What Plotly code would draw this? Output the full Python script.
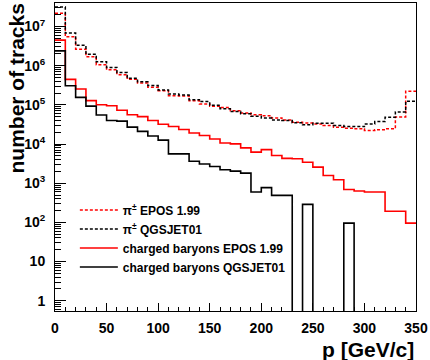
import plotly.graph_objects as go

# ---- data ----
bin_edges = [0, 10, 20, 30, 40, 50, 60, 70, 80, 90, 100, 110, 120, 130, 140, 150, 160, 170,
             180, 190, 200, 210, 220, 230, 240, 250, 260, 270, 280, 290, 300, 310, 320, 330,
             340, 350]

pi_epos = [2.18e7, 5.44e6, 2.64e6, 1.68e6, 1.05e6, 7.9e5, 5.9e5, 4.5e5, 3.6e5, 2.8e5,
           2.3e5, 1.71e5, 1.68e5, 1.28e5, 1.05e5, 9.2e4, 8.6e4, 7.1e4, 6.2e4, 5.6e4,
           5.3e4, 4.6e4, 4.1e4, 3.6e4, 3.46e4, 3.27e4, 2.96e4, 2.68e4, 2.52e4, 2.44e4,
           2.21e4, 2.3e4, 2.44e4, 4.9e4, 2.23e5]

pi_qgsjet = [3.15e7, 6.8e6, 3.3e6, 1.97e6, 1.26e6, 9.0e5, 6.7e5, 4.8e5, 3.9e5, 3.1e5,
             2.4e5, 1.89e5, 1.79e5, 1.36e5, 1.21e5, 9.8e4, 8.0e4, 6.8e4, 5.9e4, 5.1e4,
             4.6e4, 4.1e4, 3.96e4, 3.5e4, 3.1e4, 3.4e4, 3.4e4, 2.96e4, 2.8e4, 2.8e4,
             3.27e4, 3.74e4, 4.8e4, 6.6e4, 1.24e5]

baryons_epos = [4.48e6, 4.46e5, 2.54e5, 1.28e5, 1.01e5, 9.5e4, 7.3e4, 5.6e4, 5.0e4, 4.0e4,
                3.2e4, 2.8e4, 2.34e4, 1.91e4, 1.65e4, 1.34e4, 1.06e4, 1.01e4, 8.0e3, 6.2e3,
                7.2e3, 5.1e3, 4.3e3, 4.2e3, 3.44e3, 2.57e3, 1.58e3, 1.23e3, 690, 630,
                594, 594, 192, 192, 96]

baryons_qgsjet = [2.39e6, 3.08e5, 1.55e5, 9.3e4, 5.5e4, 4.0e4, 3.85e4, 2.7e4, 2.1e4, 1.6e4,
                  1.26e4, 5.6e3, 5.6e3, 3.65e3, 3.1e3, 2.67e3, 2.21e3, 2.03e3, 1.81e3, 594,
                  770, 490, 490, 0, 288, 0, 0, 0, 96, 0,
                  0, 0, 0, 0, 0]

series_names = ["π<sup>±</sup> EPOS 1.99", "π<sup>±</sup> QGSJET01",
                "charged baryons EPOS 1.99", "charged baryons QGSJET01"]

x_tick_vals = [0, 50, 100, 150, 200, 250, 300, 350]
y_tick_vals = [1, 10, 1e2, 1e3, 1e4, 1e5, 1e6, 1e7]
y_tick_text = ["1", "10", "10<sup>2</sup>", "10<sup>3</sup>", "10<sup>4</sup>",
               "10<sup>5</sup>", "10<sup>6</sup>", "10<sup>7</sup>"]

x_title = "p [GeV/c]"
y_title = "number of tracks"

# ---- figure ----
FONT = "Liberation Sans, Arial, Helvetica, sans-serif"
FLOOR = 1e-3  # empty bins drop below the frame (log scale)

styles = [
    dict(color="#ff0000", width=1.5, dash="3px,2px"),
    dict(color="#000000", width=1.5, dash="3px,2px"),
    dict(color="#ff0000", width=1.6),
    dict(color="#000000", width=1.6),
]
series = [pi_epos, pi_qgsjet, baryons_epos, baryons_qgsjet]

fig = go.Figure()
for name, vals, st in zip(series_names, series, styles):
    yv = [v if v > 0 else FLOOR for v in vals]
    yv = yv + [yv[-1]]
    fig.add_trace(go.Scatter(x=bin_edges, y=yv, mode="lines", name=name,
                             line=dict(shape="hv", **st)))

fig.update_layout(
    width=430, height=360,
    margin=dict(l=55, r=11, t=2, b=49),
    paper_bgcolor="white", plot_bgcolor="white",
    font=dict(family=FONT, color="black"),
    showlegend=True,
    legend=dict(x=0.055, y=0.375, xanchor="left", yanchor="top",
                bgcolor="rgba(0,0,0,0)", borderwidth=0,
                font=dict(family=FONT, size=12, weight="bold", color="black"),
                itemwidth=38, tracegroupgap=0),
)

fig.update_xaxes(
    range=[0, 350], tickvals=x_tick_vals, ticks="inside", ticklen=8, tickwidth=1,
    tickcolor="black", showline=True, linecolor="black", linewidth=1, mirror=True,
    showgrid=False, zeroline=False,
    tickfont=dict(family=FONT, size=14, weight="bold", color="black"),
    ticklabelstandoff=4, ticklabeloverflow="allow",
    minor=dict(ticks="inside", ticklen=4, dtick=10, tickcolor="black", showgrid=False),
)
fig.update_yaxes(
    type="log", range=[-0.262, 7.6], tickvals=y_tick_vals, ticktext=y_tick_text,
    ticks="inside", ticklen=11, tickwidth=1, tickcolor="black",
    showline=True, linecolor="black", linewidth=1, mirror=True,
    showgrid=False, zeroline=False,
    tickfont=dict(family=FONT, size=14, weight="bold", color="black"),
    ticklabelstandoff=6,
    minor=dict(ticks="inside", ticklen=6, dtick="D1", tickcolor="black", showgrid=False),
)

fig.add_annotation(text=y_title, textangle=-90, xref="paper", yref="paper",
                   x=-0.107, y=1.006, xanchor="center", yanchor="top", showarrow=False,
                   font=dict(family=FONT, size=21, weight="bold", color="black"))
fig.add_annotation(text=x_title, xref="paper", yref="paper",
                   x=1.0, y=-0.126, xanchor="right", yanchor="middle", showarrow=False,
                   font=dict(family=FONT, size=21, weight="bold", color="black"))

fig.write_html("out.html")
